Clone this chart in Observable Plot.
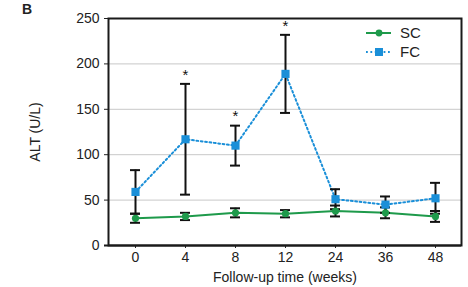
<!DOCTYPE html>
<html><head><meta charset="utf-8">
<script src="https://cdn.jsdelivr.net/npm/d3@7"></script>
<script src="https://cdn.jsdelivr.net/npm/@observablehq/plot@0.6"></script>
<style>
body{margin:0;background:#fff;}
#wrap{position:relative;width:468px;height:287px;font-family:"Liberation Sans",Arial,sans-serif;}
#panel{position:absolute;left:22px;top:1px;font-size:14px;font-weight:bold;color:#222;}
#legend{position:absolute;left:362px;top:22px;}
</style>
</head><body>
<div id="wrap"><div id="panel">B</div><div id="legend"></div></div>
<script>
const weeks = ["0","4","8","12","24","36","48"];
const scMean = [30,32,36,35,38,36,32];
const scSd = [5,4,5,4,6,6,6];
const fcMean = [59,117,110,189,51,45,52];
const fcSd = [24,61,22,43,11,9,17];
const signif = ["4","8","12"];
const yTicks = [0,50,100,150,200,250];
const gridTicks = [50,100,150,200];

const green = "#1e9a4b";
const blue = "#1a8fd8";

const sc = weeks.map((w,i)=>({w, m:scMean[i], lo:scMean[i]-scSd[i], hi:scMean[i]+scSd[i]}));
const fc = weeks.map((w,i)=>({w, m:fcMean[i], lo:fcMean[i]-fcSd[i], hi:fcMean[i]+fcSd[i]}));
const stars = fc.filter(d=>signif.includes(d.w));

const cap = (data, key) => Plot.ruleY(data,{y:key, x1:"w", x2:"w", insetLeft:-5, insetRight:-5, stroke:"#111", strokeWidth:2});

const chart = Plot.plot({
  width:468, height:287,
  marginLeft:108, marginRight:7, marginTop:18, marginBottom:42,
  style:{fontFamily:"'Liberation Sans', Arial, sans-serif", fontSize:"14px", color:"#222"},
  x:{type:"point", domain:weeks, padding:0.5, label:"Follow-up time (weeks)"},
  y:{domain:[0,250], ticks:yTicks, label:"ALT (U/L)"},
  marks:[
    Plot.gridY(gridTicks,{stroke:"#c8c8c8", strokeOpacity:1}),
    Plot.axisY(yTicks,{tickSize:4, tickPadding:5, label:"ALT (U/L)", labelAnchor:"center", labelArrow:"none", labelOffset:78, fontSize:14}),
    Plot.axisX({tickSize:3, tickPadding:4, label:"Follow-up time (weeks)", labelAnchor:"center", labelArrow:"none", labelOffset:36, fontSize:14}),
    Plot.line(fc,{x:"w", y:"m", stroke:blue, strokeWidth:2, strokeDasharray:"1.8,2.6"}),
    Plot.line(sc,{x:"w", y:"m", stroke:green, strokeWidth:2}),
    Plot.ruleX(fc,{x:"w", y1:"lo", y2:"hi", stroke:"#111", strokeWidth:2}),
    cap(fc,"hi"), cap(fc,"lo"),
    Plot.ruleX(sc,{x:"w", y1:"lo", y2:"hi", stroke:"#111", strokeWidth:2}),
    cap(sc,"hi"), cap(sc,"lo"),
    Plot.dot(sc,{x:"w", y:"m", fill:green, r:3.6, symbol:"circle"}),
    Plot.dot(fc,{x:"w", y:"m", fill:blue, r:4.6, symbol:"square"}),
    Plot.text(stars,{x:"w", y:"hi", text:()=>"*", dy:-9, fontSize:15, fill:"#111"}),
    Plot.frame({stroke:"#1a1a1a", strokeWidth:2}),
    Plot.ruleY([0],{stroke:"#1a1a1a", strokeWidth:2, insetLeft:-4})
  ]
});
document.getElementById("wrap").prepend(chart);

// legend
const lg = d3.select("#legend").append("svg").attr("width",90).attr("height",42)
  .style("font-family","'Liberation Sans', Arial, sans-serif");
const items = [{name:"SC", color:green, dash:null, sym:"circle"},{name:"FC", color:blue, dash:"1.8,2.6", sym:"square"}];
items.forEach((it,i)=>{
  const g = lg.append("g").attr("transform",`translate(0,${11+i*19})`);
  g.append("line").attr("x1",4).attr("x2",29).attr("y1",0).attr("y2",0)
    .attr("stroke",it.color).attr("stroke-width",2).attr("stroke-dasharray",it.dash);
  if(it.sym==="circle") g.append("circle").attr("cx",17).attr("cy",0).attr("r",3.4).attr("fill",it.color);
  else g.append("rect").attr("x",13).attr("y",-4).attr("width",8).attr("height",8).attr("fill",it.color);
  g.append("text").attr("x",38).attr("y",0).attr("dy","0.36em").attr("font-size",15).attr("fill","#222").text(it.name);
});
</script>
</body></html>
